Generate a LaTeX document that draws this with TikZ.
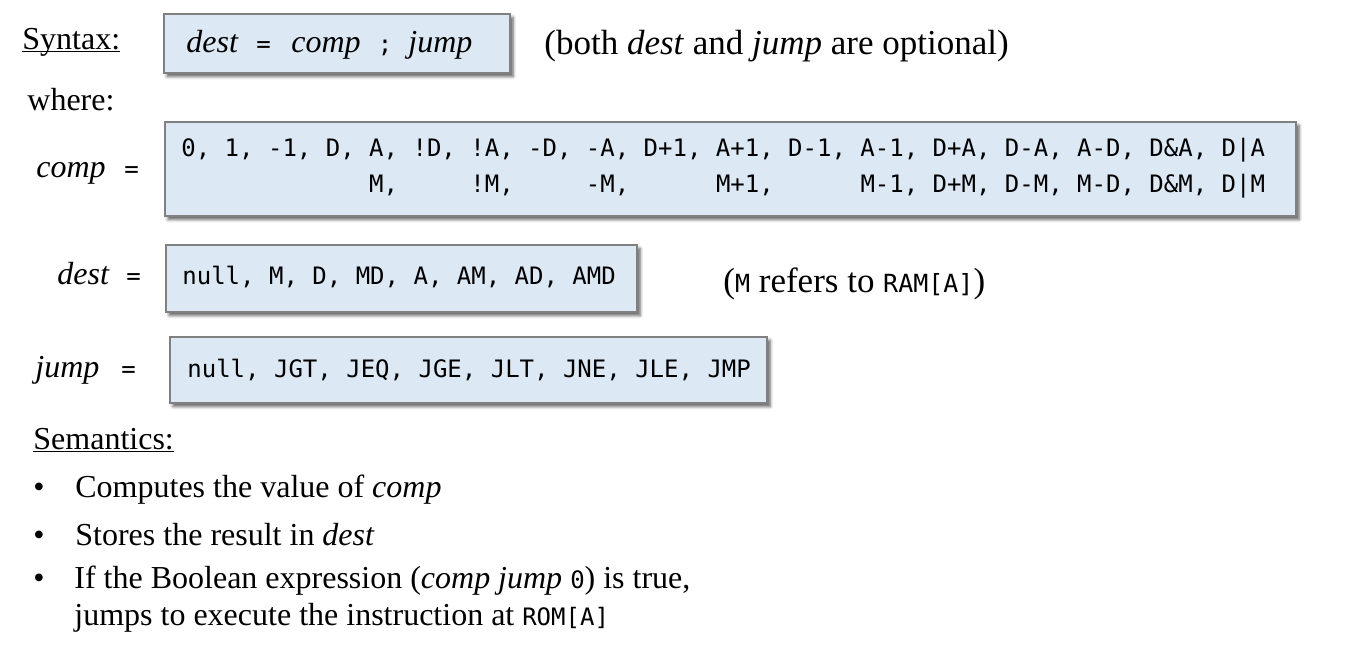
\documentclass[tikz,border=0pt]{standalone}
\usepackage{fontspec}
\setmainfont{Liberation Serif}
\setmonofont{DejaVu Sans Mono}
\usetikzlibrary{shadows.blur}
\definecolor{boxfill}{RGB}{221,232,245}
\definecolor{boxborder}{RGB}{128,128,128}
\newlength\cw
\newcommand\mono{\fontsize{12}{14}\selectfont\ttfamily}
\newcommand\blk[1]{\hspace*{#1\cw}}
\newcommand\uline[1]{\underline{\smash{#1}}}
\tikzset{
  codebox/.style={draw=boxborder, line width=0.8pt, fill=boxfill, inner sep=0pt, anchor=north west,
    blur shadow={shadow xshift=1.6pt, shadow yshift=-1.8pt, shadow blur radius=1.6pt, shadow opacity=65}},
  txt/.style={anchor=base west, inner sep=0pt, font=\fontsize{16}{19}\selectfont},
  bigtxt/.style={anchor=base west, inner sep=0pt, font=\fontsize{17.5}{21}\selectfont},
  code/.style={anchor=base west, inner sep=0pt, font=\mono},
  eq/.style={anchor=base, inner sep=0pt, font=\mono},
}
\begin{document}
\begin{tikzpicture}[x=0.5pt,y=-0.5pt]
\useasboundingbox (0,0) rectangle (1351,645);
% Syntax line
\node[txt] (syntax) at (22,49) {\uline{Syntax:}};
\node[codebox, minimum width=173pt, minimum height=29.5pt] (box1) at (163,13) {};
\node[txt] (s1) at (186,52) {\itshape dest};
\node[eq] (s2) at (263.5,52) {=};
\node[txt] (s3) at (291,52) {\itshape comp};
\node[eq] (s4) at (385,52) {;};
\node[txt] (s5) at (408,52) {\itshape jump};
\node[bigtxt] (opt) at (544,54) {(both \textit{dest} and \textit{jump} are optional)};
\node[txt] (where) at (27,110) {where:};
% comp
\node[txt] (complbl) at (36,177) {\itshape comp};
\node[eq] (compeq) at (131.5,177) {=};
\node[codebox, minimum width=565.5pt, minimum height=47pt] (compbox) at (164,121) {};
\node[code] (comprow1) at (181,156) {0, 1, -1, D, A, !D, !A, -D, -A, D+1, A+1, D-1, A-1, D+A, D-A, A-D, D\&A, D|A};
\node[code] (comprow2) at (181,192) {\settowidth\cw{0}\blk{13}M,\blk{5}!M,\blk{5}-M,\blk{6}M+1,\blk{6}M-1, D+M, D-M, M-D, D\&M, D|M};
% dest
\node[txt] (destlbl) at (57,284) {\itshape dest};
\node[eq] (desteq) at (133.5,284) {=};
\node[codebox, minimum width=235.5pt, minimum height=33.5pt] (destbox) at (165,244) {};
\node[code] (desttxt) at (182,284) {null, M, D, MD, A, AM, AD, AMD};
\node[bigtxt] (mref) at (723,292) {({\fontsize{12.5}{14}\selectfont\ttfamily M} refers to {\fontsize{12.5}{14}\selectfont\ttfamily RAM[A]})};
% jump
\node[txt] (jumplbl) at (35,377) {\itshape jump};
\node[eq] (jumpeq) at (128.5,377) {=};
\node[codebox, minimum width=298.5pt, minimum height=33pt] (jumpbox) at (169,336) {};
\node[code] (jumptxt) at (187,377) {null, JGT, JEQ, JGE, JLT, JNE, JLE, JMP};
% Semantics
\node[txt] (sem) at (33,449) {\uline{Semantics:}};
\node[txt] (b1) at (33,497) {•};
\node[txt] (t1) at (75,497) {Computes the value of \textit{comp}};
\node[txt] (b2) at (33,545) {•};
\node[txt] (t2) at (75,545) {Stores the result in \textit{dest}};
\node[txt] (b3) at (33,588) {•};
\node[txt] (t3) at (74,588) {If the Boolean expression (\textit{comp jump} {\mono 0}) is true,};
\node[txt] (t4) at (74,625) {jumps to execute the instruction at {\mono ROM[A]}};
\end{tikzpicture}
\end{document}
